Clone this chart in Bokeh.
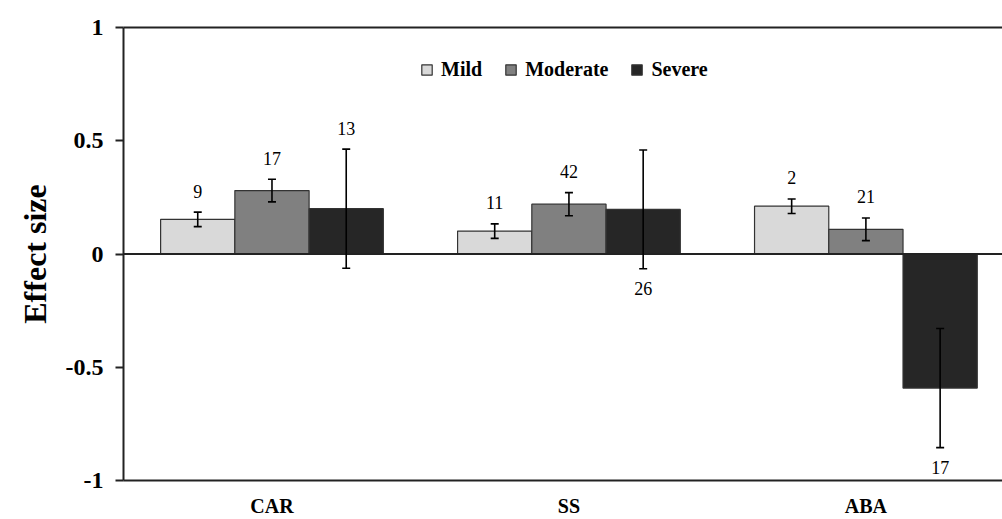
from bokeh.plotting import figure
from bokeh.models import (ColumnDataSource, Range1d, FixedTicker, LinearAxis, Span,
                          Whisker, TeeHead, Legend, LegendItem, LabelSet)
from bokeh.core.properties import value
from bokeh.embed import file_html
from bokeh.resources import INLINE

categories = ["CAR", "SS", "ABA"]
series = ["Mild", "Moderate", "Severe"]
colors = ["#d9d9d9", "#808080", "#262626"]
mild = [0.153, 0.101, 0.211]
moderate = [0.280, 0.220, 0.109]
severe = [0.200, 0.197, -0.592]
mild_err = [0.032, 0.032, 0.032]
moderate_err = [0.050, 0.051, 0.050]
severe_err = [0.263, 0.262, 0.263]
mild_n = ["9", "11", "2"]
moderate_n = ["17", "42", "21"]
severe_n = ["13", "26", "17"]
severe_label_above = [True, False, False]
y_ticks = [-1, -0.5, 0, 0.5, 1]
y_tick_labels = ["-1", "-0.5", "0", "0.5", "1"]

FONT = "Liberation Serif"

p = figure(width=1002, height=519, output_backend="svg", toolbar_location=None,
           x_range=Range1d(0, 2.96), y_range=Range1d(-1, 1),
           min_border_left=123, min_border_right=0, min_border_top=27, min_border_bottom=38)
p.outline_line_color = None
p.xgrid.visible = False
p.ygrid.visible = False
p.background_fill_color = "white"
p.border_fill_color = "white"

# axes
yax = p.yaxis[0]
yax.ticker = FixedTicker(ticks=y_ticks)
yax.major_label_overrides = {t: l for t, l in zip(y_ticks, y_tick_labels)}
yax.major_label_text_font = FONT
yax.major_label_text_font_style = "bold"
yax.major_label_text_font_size = "24px"
yax.major_label_text_color = "black"
yax.major_tick_out = 8
yax.major_tick_in = 0
yax.minor_tick_out = 0
yax.minor_tick_in = 0
yax.major_label_standoff = 12
yax.axis_line_width = 2
yax.axis_line_color = "#222222"
yax.major_tick_line_width = 2
yax.major_tick_line_color = "#222222"
yax.axis_label = "Effect size"
yax.axis_label_text_font = FONT
yax.axis_label_text_font_style = "bold"
yax.axis_label_text_font_size = "32px"
yax.axis_label_text_color = "black"
yax.axis_label_standoff = 10

xax = p.xaxis[0]
xax.ticker = FixedTicker(ticks=[i + 0.5 for i in range(len(categories))])
xax.major_label_overrides = {i + 0.5: c for i, c in enumerate(categories)}
xax.major_label_text_font = FONT
xax.major_label_text_font_style = "bold"
xax.major_label_text_font_size = "20px"
xax.major_label_text_color = "black"
xax.major_tick_out = 0
xax.major_tick_in = 0
xax.minor_tick_out = 0
xax.minor_tick_in = 0
xax.major_label_standoff = 14
xax.axis_line_width = 2
xax.axis_line_color = "#222222"

top = LinearAxis(major_label_text_font_size="0px", major_tick_out=0, major_tick_in=0,
                 minor_tick_out=0, minor_tick_in=0, axis_line_width=2,
                 axis_line_color="#222222", ticker=FixedTicker(ticks=[]))
p.add_layout(top, "above")

p.add_layout(Span(location=0, dimension="width", line_color="#222222", line_width=2))

# bars
values = [mild, moderate, severe]
errs = [mild_err, moderate_err, severe_err]
ns = [mild_n, moderate_n, severe_n]
offsets = [-0.25, 0.0, 0.25]
renderers = []
for s, vals, er, nn, off, col in zip(series, values, errs, ns, offsets, colors):
    xs = [i + 0.5 + off for i in range(len(categories))]
    if s == "Severe":
        above = severe_label_above
    else:
        above = [True] * len(categories)
    src = ColumnDataSource(dict(
        x=xs, top=vals,
        upper=[v + e for v, e in zip(vals, er)],
        lower=[v - e for v, e in zip(vals, er)],
        n=nn,
    ))
    r = p.vbar(x="x", top="top", bottom=0, width=0.25, source=src,
               fill_color=col, line_color="#333333", line_width=1.2)
    renderers.append(r)
    w = Whisker(base="x", upper="upper", lower="lower", source=src, level="overlay",
                line_color="black", line_width=1.6,
                upper_head=TeeHead(size=8, line_color="black", line_width=1.6),
                lower_head=TeeHead(size=8, line_color="black", line_width=1.6))
    p.add_layout(w)
    # count labels
    up_src = ColumnDataSource(dict(
        x=[x for x, a in zip(xs, above) if a],
        y=[u for u, a in zip(src.data["upper"], above) if a],
        n=[t for t, a in zip(nn, above) if a]))
    lo_src = ColumnDataSource(dict(
        x=[x for x, a in zip(xs, above) if not a],
        y=[l for l, a in zip(src.data["lower"], above) if not a],
        n=[t for t, a in zip(nn, above) if not a]))
    p.add_layout(LabelSet(x="x", y="y", text="n", source=up_src, text_font=FONT,
                          text_font_size="18px", text_align="center", text_baseline="middle",
                          y_offset=21, text_color="black"))
    p.add_layout(LabelSet(x="x", y="y", text="n", source=lo_src, text_font=FONT,
                          text_font_size="18px", text_align="center", text_baseline="middle",
                          y_offset=-20, text_color="black"))

legend = Legend(items=[LegendItem(label=s, renderers=[r]) for s, r in zip(series, renderers)],
                orientation="horizontal", location=(297, 399),
                glyph_width=13, glyph_height=13, label_standoff=8, spacing=22,
                padding=0, margin=0, border_line_alpha=0, background_fill_alpha=0,
                label_text_font=FONT, label_text_font_style="bold",
                label_text_font_size="20px", label_text_color="black", label_height=20)
p.add_layout(legend)

open("out.html", "w").write(file_html(p, INLINE))
